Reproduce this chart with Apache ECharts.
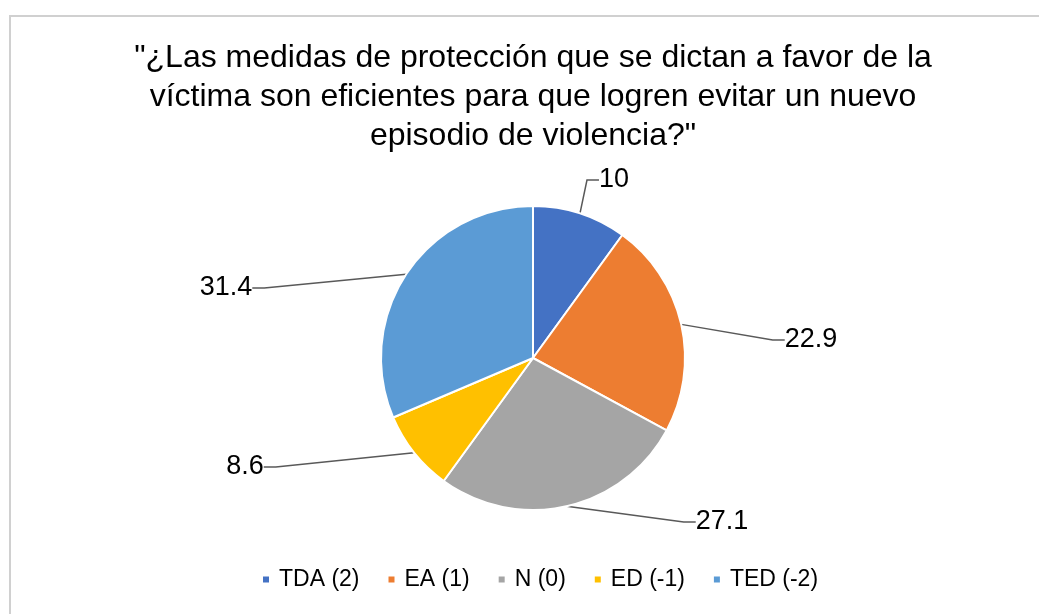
<!DOCTYPE html>
<html>
<head>
<meta charset="utf-8">
<script src="https://cdn.jsdelivr.net/npm/echarts@6/dist/echarts.min.js"></script>
<style>
  html, body { margin: 0; padding: 0; background: #fff; }
  #main { width: 1039px; height: 614px; }
</style>
</head>
<body>
<div id="main"></div>
<script>
// datos del grafico
var categorias = ['TDA (2)', 'EA (1)', 'N (0)', 'ED (-1)', 'TED (-2)'];
var valores = [10, 22.9, 27.1, 8.6, 31.4];
var colores = ['#4472C4', '#ED7D31', '#A5A5A5', '#FFC000', '#5B9BD5'];

// posicion de las etiquetas (centro del texto)
var posEtiquetas = [[614, 180], [811, 340], [722, 522], [245, 467], [226, 288]];

var chart = echarts.init(document.getElementById('main'));

var option = {
  backgroundColor: '#fff',
  title: {
    text: '"¿Las medidas de protección que se dictan a favor de la\nvíctima son eficientes para que logren evitar un nuevo\nepisodio de violencia?"',
    left: 528,
    top: 34,
    textAlign: 'center',
    textStyle: {
      fontFamily: 'Liberation Sans',
      fontSize: 32,
      fontWeight: 'normal',
      color: '#000',
      lineHeight: 39
    }
  },
  legend: {
    bottom: 18,
    left: 256,
    icon: 'rect',
    itemWidth: 8,
    itemHeight: 8,
    itemGap: 27,
    textStyle: { fontFamily: 'Liberation Sans', fontSize: 23, color: '#000', padding: [0, 0, 0, 4] },
    data: categorias
  },
  graphic: [{
    type: 'rect',
    shape: { x: 10, y: 16, width: 1040, height: 610 },
    style: { fill: 'none', stroke: '#d0d0d0', lineWidth: 2 },
    silent: true
  }],
  series: [{
    type: 'pie',
    center: [533, 358],
    radius: 152,
    startAngle: 90,
    clockwise: true,
    itemStyle: { borderColor: '#fff', borderWidth: 2 },
    label: {
      show: true,
      formatter: '{c}',
      fontFamily: 'Liberation Sans',
      fontSize: 27,
      color: '#000'
    },
    labelLine: {
      show: true,
      length: 20,
      length2: 12,
      lineStyle: { color: '#595959', width: 1.5 }
    },
    labelLayout: function (params) {
      var p = posEtiquetas[params.dataIndex];
      return { x: p[0], y: p[1], align: 'center', verticalAlign: 'middle' };
    },
    emphasis: { disabled: true },
    data: categorias.map(function (c, i) {
      return { name: c, value: valores[i], itemStyle: { color: colores[i] } };
    })
  }]
};

chart.setOption(option);
</script>
</body>
</html>
